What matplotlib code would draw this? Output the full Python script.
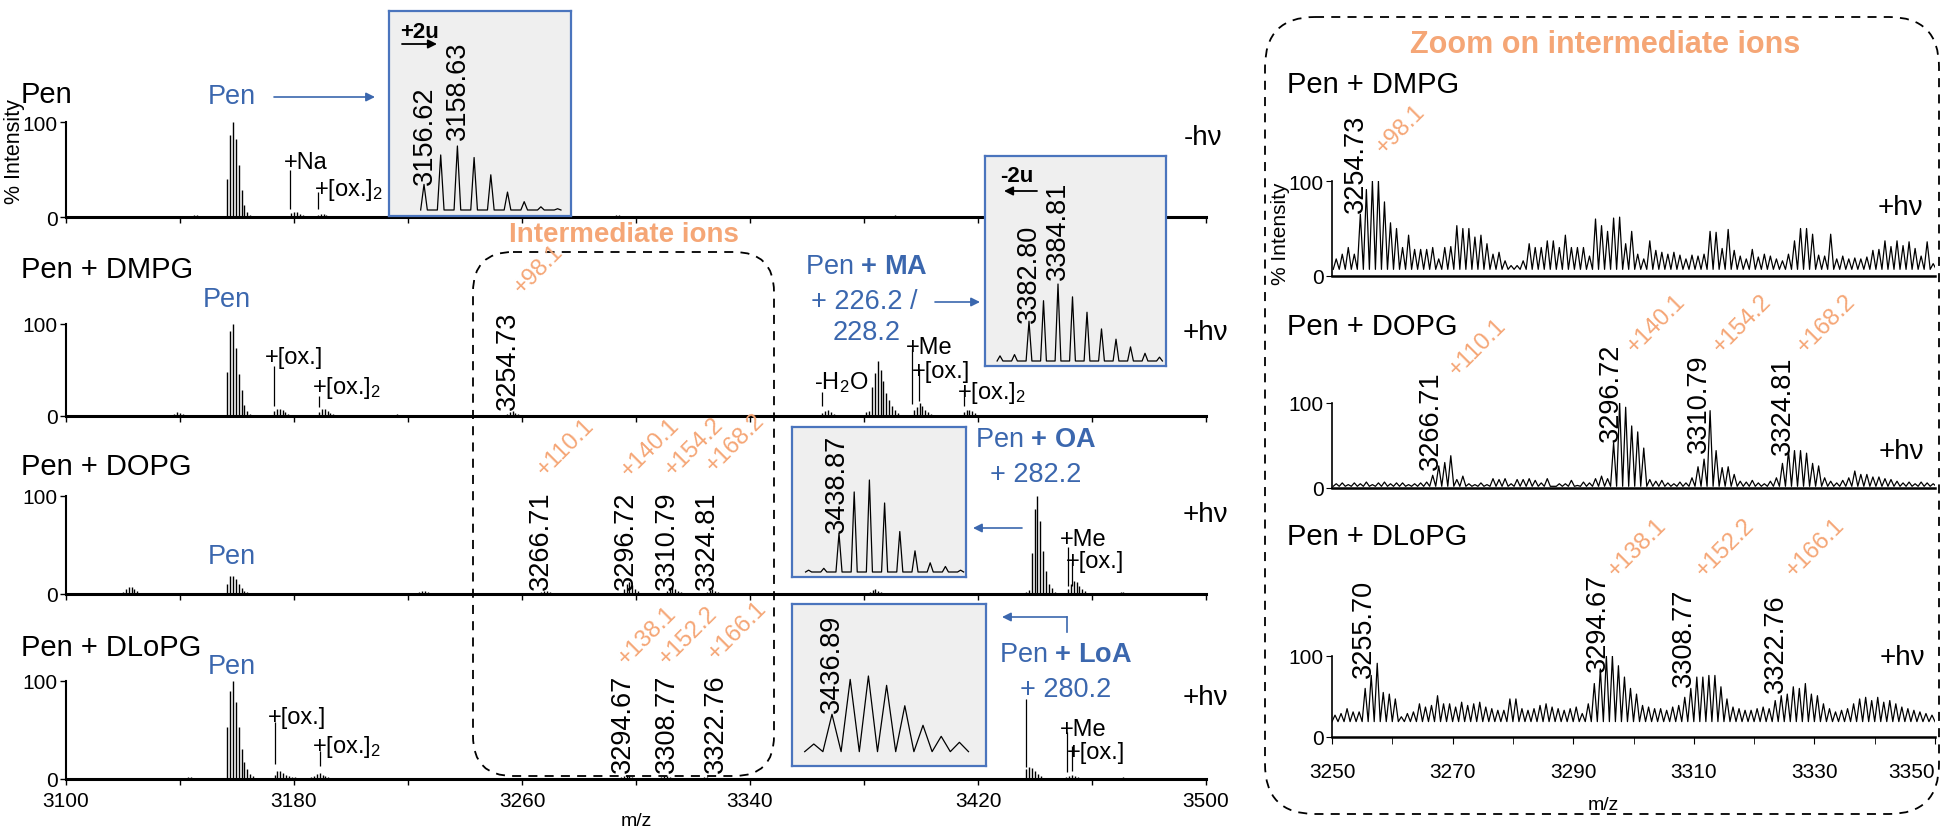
import matplotlib.pyplot as plt
import numpy as np
from matplotlib.patches import FancyBboxPatch

plt.rcParams['font.family'] = ['Liberation Sans', 'DejaVu Sans']
plt.rcParams['mathtext.fontset'] = 'custom'
plt.rcParams['mathtext.rm'] = 'Liberation Sans'
plt.rcParams['mathtext.bf'] = 'Liberation Sans:bold'
plt.rcParams['mathtext.it'] = 'Liberation Sans:italic'

W, H = 1943, 828
ORANGE = '#F5A676'
BLUE = '#3B67AE'
FRAME = '#4A74BD'
INSET_BG = '#EFEFEF'

# ---- data: isotope clusters (first m/z, heights in %, 1 Da spacing) ----
PEN_START = 3156.62
PEN_PEAKS = [40, 86, 100, 82, 55, 28, 13, 5, 2]
MA_START = 3380.80
MA_PEAKS = [4, 5, 31, 47, 60, 50, 38, 25, 17, 11, 6, 3]
OA_START = 3436.87
OA_PEAKS = [2, 4, 42, 87, 100, 75, 44, 23, 10, 6, 2]
LOA_INSET_START = 3435.89
LOA_INSET_PEAKS = [20, 55, 96, 100, 89, 65, 42, 29, 22]

ROW_PEN = [(3126.0, [1, 1, 1]), (3145.0, [2, 2, 1]), (PEN_START, PEN_PEAKS),
           (3179.0, [4, 5, 5, 3, 2]), (3188.4, [2, 3, 3, 2, 1]), (3218.0, [1, 1, 1]),
           (3292.0, [1, 2, 2, 1]), (3309.0, [1, 1, 1]), (3390.0, [1, 2, 1]),
           (3414.0, [1, 1, 1])]
ROW_DMPG = [(3126.0, [1, 1]), (3138.0, [2, 4, 3, 2]),
            (3156.6, [48, 92, 100, 74, 46, 28, 12, 5, 2]),
            (3173.0, [5, 8, 8, 6, 4, 2]), (3188.8, [4, 8, 8, 5, 3, 2]),
            (3215.0, [1, 2, 1]), (3254.7, [2, 4, 5, 3, 2]), (3365.3, [3, 5, 6, 4, 2]),
            (MA_START, MA_PEAKS), (3397.5, [6, 10, 14, 11, 7, 4, 2]),
            (3415.0, [4, 6, 7, 5, 3])]
ROW_DOPG = [(3120.0, [2, 5, 7, 7, 5, 3, 1]), (3156.6, [10, 18, 18, 15, 10, 6, 3, 2]),
            (3224.0, [2, 3, 3, 2]), (3266.7, [2, 3, 3, 2]), (3295.7, [5, 10, 12, 9, 5, 3]),
            (3310.8, [3, 6, 7, 5, 3, 2]), (3324.8, [2, 4, 5, 3, 2]), (3382.0, [2, 4, 5, 3, 2]),
            (OA_START, OA_PEAKS), (3451.6, [5, 10, 13, 12, 8, 5, 3]),
            (3470.0, [2, 2, 1]), (3480.0, [1, 1])]
ROW_DLOPG = [(3141.8, [1, 2, 2, 1]), (3156.6, [53, 90, 100, 79, 53, 31, 17, 10, 5, 3]),
             (3173.2, [4, 8, 8, 6, 4, 3, 2, 2, 1]), (3186.0, [2, 3, 5, 6, 4, 3, 2]),
             (3294.7, [2, 3, 4, 3, 2]), (3308.8, [2, 3, 3, 2]), (3322.8, [1, 2, 2, 1]),
             (3437.0, [10, 12, 11, 8, 5, 3]), (3451.0, [2, 3, 4, 3, 2]),
             (3470.0, [1, 2, 1])]

# annotation marker lines: (m/z, low %, high %)
MARK_PEN = [(3178.6, 8, 50), (3188.4, 8, 26)]
MARK_DMPG = [(3173.0, 11, 54), (3188.8, 10, 22), (3365.3, 11, 26),
             (3397.0, 13, 73), (3399.3, 16, 51), (3415.0, 11, 29)]
MARK_DOPG = [(3451.6, 8, 48), (3453.1, 8, 33)]
MARK_DLOPG = [(3173.2, 15, 58), (3189.2, 13, 29), (3437.0, 12, 82),
              (3451.1, 7, 48), (3453.0, 8, 34)]

# zoom panel: peak heights every 1 Da
Z_DMPG_START = 3250.7
Z_DMPG = [18, 23, 30, 23, 65, 91, 100, 100, 78, 56,
          50, 30, 43, 28, 28, 28, 30, 18, 30, 31,
          53, 50, 50, 41, 43, 34, 23, 25, 16, 11,
          11, 16, 34, 30, 30, 37, 37, 30, 43, 30,
          30, 30, 21, 60, 53, 47, 61, 62, 34, 47,
          23, 18, 37, 27, 25, 23, 25, 22, 18, 22,
          21, 23, 47, 46, 29, 49, 27, 21, 18, 28,
          20, 23, 21, 18, 16, 23, 37, 50, 50, 44,
          22, 21, 44, 18, 21, 18, 19, 18, 20, 27,
          28, 37, 31, 37, 32, 36, 29, 21, 36, 13]
Z_DOPG_START = 3250.7
Z_DOPG = [5, 6, 4, 6, 5, 7, 4, 6, 7, 5,
          6, 6, 4, 5, 6, 7, 15, 26, 30, 38,
          10, 14, 5, 4, 6, 4, 11, 10, 11, 5,
          10, 10, 11, 9, 6, 11, 2, 5, 5, 9,
          3, 7, 6, 11, 14, 11, 53, 100, 95, 73,
          66, 47, 10, 8, 9, 6, 5, 7, 6, 12,
          25, 34, 91, 44, 24, 25, 16, 8, 7, 9,
          6, 5, 8, 12, 29, 44, 44, 44, 41, 29,
          26, 12, 8, 6, 9, 12, 20, 16, 16, 13,
          13, 11, 10, 8, 6, 7, 5, 7, 6, 5]
Z_DLOPG_START = 3250.5
Z_DLOPG = [27, 29, 35, 31, 31, 60, 76, 91, 55, 53,
           47, 25, 29, 31, 41, 37, 39, 51, 41, 41,
           37, 43, 39, 41, 43, 37, 35, 33, 33, 47,
           47, 35, 33, 35, 39, 41, 37, 35, 33, 35,
           37, 29, 41, 66, 84, 100, 100, 88, 74, 60,
           53, 39, 37, 35, 35, 33, 37, 39, 49, 60,
           74, 74, 76, 76, 62, 47, 37, 35, 33, 33,
           35, 37, 35, 45, 51, 53, 62, 60, 66, 53,
           51, 41, 35, 31, 33, 35, 41, 47, 49, 45,
           49, 43, 45, 41, 37, 35, 33, 31, 29, 27]
Z_VALLEY = [7, 2, 19]


def px_axes(fig, x0, y0, x1, y1):
    return fig.add_axes([x0 / W, 1 - y1 / H, (x1 - x0) / W, (y1 - y0) / H])


def zigzag(start, heights, valley):
    c = start + np.arange(len(heights))
    xs = np.empty(2 * len(c) + 1)
    ys = np.empty(2 * len(c) + 1)
    xs[0::2] = np.append(c - 0.5, c[-1] + 0.5)
    ys[0::2] = valley
    xs[1::2] = c
    ys[1::2] = heights
    return xs, ys


def spikes(start, heights, half=0.2):
    c = start + np.arange(len(heights))
    h = np.asarray(heights, float)
    xs = np.column_stack([c - half, c, c + half]).ravel()
    ys = np.column_stack([np.zeros_like(h), h, np.zeros_like(h)]).ravel()
    return xs, ys


fig = plt.figure(figsize=(W / 100, H / 100), dpi=100)

# ---- left stacked spectra ----
left_rows = [(ROW_PEN, MARK_PEN, 123, 218), (ROW_DMPG, MARK_DMPG, 325, 417),
             (ROW_DOPG, MARK_DOPG, 497, 595), (ROW_DLOPG, MARK_DLOPG, 682, 780)]
for i, (clusters, marks, ytop, ybot) in enumerate(left_rows):
    ax = px_axes(fig, 66, ytop, 1206, ybot)
    for start, hs in clusters:
        ax.vlines(start + np.arange(len(hs)), 0, hs, color='k', lw=1.0)
    for m, lo, hi in marks:
        ax.vlines(m, lo, hi, color='k', lw=0.9)
    ax.set_xlim(3100, 3500)
    ax.set_ylim(0, 100)
    ax.patch.set_visible(False)
    for s in ('top', 'right'):
        ax.spines[s].set_visible(False)
    ax.spines['bottom'].set_linewidth(2.2)
    ax.spines['left'].set_linewidth(1.5)
    ax.set_xticks(np.arange(3100, 3501, 80))
    ax.set_xticks(np.arange(3100, 3501, 40), minor=True)
    ax.set_yticks([0, 100])
    ax.tick_params(axis='both', which='both', length=4, width=1, labelsize=15, pad=2)
    if i < 3:
        ax.tick_params(axis='x', which='both', labelbottom=False)
    else:
        ax.tick_params(axis='x', pad=5)
        ax.set_xlabel('m/z', fontsize=14, labelpad=1)

# ---- right zoom spectra ----
right_rows = [(Z_DMPG_START, Z_DMPG, 182, 277), (Z_DOPG_START, Z_DOPG, 404, 489),
              (Z_DLOPG_START, Z_DLOPG, 657, 738)]
for i, (start, hs, ytop, ybot) in enumerate(right_rows):
    ax = px_axes(fig, 1332, ytop, 1935, ybot)
    xs, ys = zigzag(start, hs, Z_VALLEY[i])
    ax.plot(xs, ys, color='k', lw=0.9)
    ax.set_xlim(3250, 3350)
    ax.set_ylim(0, 100)
    ax.patch.set_visible(False)
    for s in ('top', 'right'):
        ax.spines[s].set_visible(False)
    ax.spines['bottom'].set_linewidth(1.8)
    ax.spines['left'].set_linewidth(1.2)
    ax.set_yticks([0, 100])
    ax.tick_params(axis='both', which='both', length=4, labelsize=15, pad=2)
    if i < 2:
        ax.set_xticks([])
    else:
        ax.set_xticks(np.arange(3250, 3351, 20))
        ax.set_xticks(np.arange(3260, 3351, 20), minor=True)
        ax.tick_params(axis='x', which='both', length=5, pad=13)
        ax.get_xticklabels()[-1].set_horizontalalignment('right')
        ax.set_xlabel('m/z', fontsize=14)
        ax.xaxis.set_label_coords(0.45, -0.73)

# ---- insets ----
def make_inset(box, anchor_mz, anchor_px, px_per_da, base_px, px_per_pct):
    x0, y0, x1, y1 = box
    ax = px_axes(fig, *box)
    ax.set_xlim(anchor_mz - (anchor_px - x0) / px_per_da,
                anchor_mz + (x1 - anchor_px) / px_per_da)
    ax.set_ylim(-(y1 - base_px) / px_per_pct, (base_px - y0) / px_per_pct)
    ax.set_facecolor(INSET_BG)
    for s in ax.spines.values():
        s.set_edgecolor(FRAME)
        s.set_linewidth(1.6)
    ax.set_xticks([])
    ax.set_yticks([])
    ax.plot([0.04, 0.96], [0, 0], color='k', lw=2.2, transform=ax.get_xaxis_transform())
    return ax


ins = make_inset((389, 12, 571, 217), PEN_START, 424, 16.7, 211, 0.64)
ins.plot(*spikes(PEN_START, PEN_PEAKS), color='k', lw=0.9)
ins = make_inset((985, 157, 1166, 367), 3382.80, 1029, 14.5, 362, 1.283)
ins.plot(*spikes(MA_START, MA_PEAKS), color='k', lw=0.9)
ins = make_inset((792, 428, 966, 578), 3438.87, 839, 15.2, 573, 0.92)
ins.plot(*spikes(OA_START, OA_PEAKS), color='k', lw=0.9)
ins = make_inset((792, 605, 986, 767), 3436.89, 832, 18.2, 762, 0.85)
xs, ys = zigzag(LOA_INSET_START, LOA_INSET_PEAKS, 11)
ins.plot(xs, ys, color='k', lw=0.9)

# ---- overlay for text, arrows and dashed frames (pixel coordinates) ----
ov = fig.add_axes([0, 0, 1, 1])
ov.set_xlim(0, W)
ov.set_ylim(H, 0)
ov.axis('off')
ov.patch.set_visible(False)


def put(x, y, s, size=17, ha='left', **kw):
    ov.text(x, y, s, fontsize=size, ha=ha, va='center', **kw)


def vnum(x, y, s, size=19.5):
    ov.text(x, y, s, fontsize=size, rotation=90, ha='center', va='bottom')


def onum(x, y, s, size=17):
    ov.text(x, y, s, fontsize=size, rotation=45, ha='center', va='center',
            rotation_mode='anchor', color=ORANGE)


def arrow(x0, y0, x1, y1, color=BLUE, lw=1.2):
    ov.annotate('', xy=(x1, y1), xytext=(x0, y0),
                arrowprops=dict(arrowstyle='-|>', color=color, lw=lw,
                                mutation_scale=13, shrinkA=0, shrinkB=0))


ov.add_patch(FancyBboxPatch((473, 253), 301, 524, boxstyle='round,pad=0,rounding_size=40',
                            fill=False, ec='k', lw=1.3, ls=(0, (5, 4))))
ov.add_patch(FancyBboxPatch((1265, 18), 674, 797, boxstyle='round,pad=0,rounding_size=50',
                            fill=False, ec='k', lw=1.3, ls=(0, (5, 4))))

# left panel text
for s, y in [('Pen', 95), ('Pen + DMPG', 270), ('Pen + DOPG', 467), ('Pen + DLoPG', 648)]:
    put(21, y, s, size=21)
for x, y in [(232, 97), (227, 300), (232, 557), (232, 667)]:
    put(x, y, 'Pen', size=19.5, ha='center', color=BLUE)
put(1203, 138, '-hν', size=20, ha='center')
for y in (333, 515, 698):
    put(1205, y, '+hν', size=20, ha='center')
put(15, 152, '% Intensity', size=15.5, ha='center', rotation=90)
put(624, 235, 'Intermediate ions', size=20, ha='center', color=ORANGE, fontweight='bold')

ann = [('+Na', 284, 163), ('+[ox.]$_2$', 314, 190),
       ('+[ox.]', 265, 358), ('+[ox.]$_2$', 312, 388), ('-H$_2$O', 814, 383),
       ('+Me', 906, 348), ('+[ox.]', 912, 372), ('+[ox.]$_2$', 957, 393),
       ('+Me', 1060, 540), ('+[ox.]', 1066, 562),
       ('+[ox.]', 268, 718), ('+[ox.]$_2$', 312, 747), ('+Me', 1060, 730), ('+[ox.]', 1067, 753)]
for s, x, y in ann:
    put(x, y, s, size=17)

for s, x, y in [('3254.73', 508, 410), ('3266.71', 541, 590), ('3296.72', 626, 590),
                ('3310.79', 667, 590), ('3324.81', 707, 590), ('3294.67', 623, 773),
                ('3308.77', 667, 773), ('3322.76', 716, 773), ('3156.62', 425, 185),
                ('3158.63', 458, 140), ('3382.80', 1029, 323), ('3384.81', 1058, 280),
                ('3438.87', 837, 533), ('3436.89', 832, 713)]:
    vnum(x, y, s)
for s, x, y in [('+98.1', 539, 270), ('+110.1', 566, 448), ('+140.1', 650, 448),
                ('+154.2', 694, 447), ('+168.2', 735, 443), ('+138.1', 647, 636),
                ('+152.2', 688, 636), ('+166.1', 737, 631)]:
    onum(x, y, s)

put(866, 267, r'Pen $\mathbf{+}$ $\mathbf{MA}$', size=19.5, ha='center', color=BLUE)
put(864, 302, '+ 226.2 /', size=19.5, ha='center', color=BLUE)
put(867, 333, '228.2', size=19.5, ha='center', color=BLUE)
put(1036, 440, r'Pen $\mathbf{+}$ $\mathbf{OA}$', size=19.5, ha='center', color=BLUE)
put(1036, 475, '+ 282.2', size=19.5, ha='center', color=BLUE)
put(1066, 655, r'Pen $\mathbf{+}$ $\mathbf{LoA}$', size=19.5, ha='center', color=BLUE)
put(1066, 690, '+ 280.2', size=19.5, ha='center', color=BLUE)

arrow(274, 98, 375, 98)
arrow(935, 303, 980, 303)
arrow(1022, 529, 973, 529)
ov.plot([1067, 1067], [633, 618], color=BLUE, lw=1.2)
arrow(1067, 618, 1002, 618)

put(400, 32, '+2u', size=16, fontweight='bold')
arrow(402, 45, 437, 45, color='k', lw=1.3)
put(1000, 176, '-2u', size=16, fontweight='bold')
arrow(1037, 192, 1004, 192, color='k', lw=1.3)

# right panel text
put(1605, 45, 'Zoom on intermediate ions', size=22, ha='center', color=ORANGE,
    fontweight='bold')
for s, y in [('Pen + DMPG', 85), ('Pen + DOPG', 327), ('Pen + DLoPG', 537)]:
    put(1287, y, s, size=21)
for x, y in [(1900, 208), (1901, 452), (1902, 658)]:
    put(x, y, '+hν', size=20, ha='center')
put(1281, 234, '% Intensity', size=15, ha='center', rotation=90)
for s, x, y in [('3254.73', 1356, 213), ('3266.71', 1431, 470), ('3296.72', 1611, 442),
                ('3310.79', 1699, 453), ('3324.81', 1783, 455), ('3255.70', 1364, 678),
                ('3294.67', 1598, 672), ('3308.77', 1684, 687), ('3322.76', 1776, 693)]:
    vnum(x, y, s)
for s, x, y in [('+98.1', 1401, 130), ('+110.1', 1478, 348), ('+140.1', 1656, 324),
                ('+154.2', 1742, 324), ('+168.2', 1826, 324), ('+138.1', 1637, 548),
                ('+152.2', 1725, 548), ('+166.1', 1815, 548)]:
    onum(x, y, s)

fig.savefig('out.png', dpi=100)
